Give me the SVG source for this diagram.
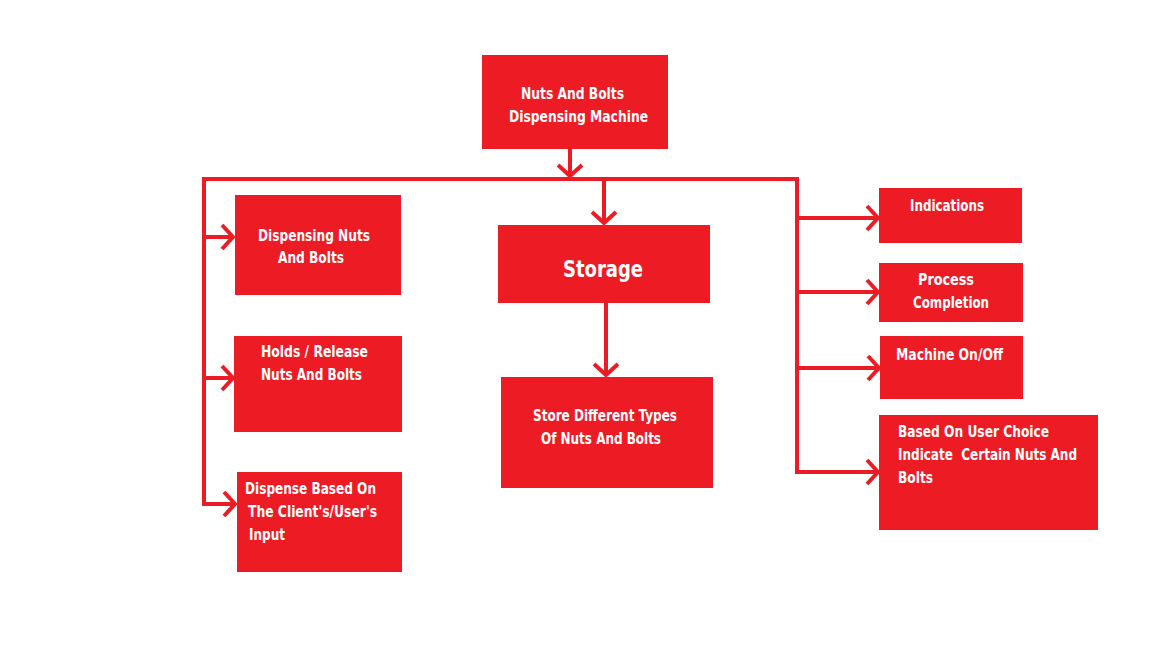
<svg xmlns="http://www.w3.org/2000/svg" width="1152" height="648" viewBox="0 0 1152 648">
<style>
.box{fill:#ED1C24}
.c{fill:none;stroke:#ED1C24;stroke-width:4}
text{font-family:"DejaVu Sans Condensed","Liberation Sans Narrow","Liberation Sans",sans-serif;font-weight:bold;font-size:16px;fill:#ffffff}
.big{font-size:23px}
</style>
<defs>
<marker id="ah" markerUnits="userSpaceOnUse" markerWidth="34" markerHeight="34" viewBox="-17 -17 34 34" refX="0" refY="0" orient="auto">
<path d="M-11,-12 L0,0 L-11,12" fill="none" stroke="#ED1C24" stroke-width="4"/>
</marker>
</defs>
<rect width="1152" height="648" fill="#ffffff"/>
<g id="connectors">
<path class="c" d="M570,149 V176" marker-end="url(#ah)"/>
<path class="c" d="M202,179 H799"/>
<path class="c" d="M204,177 V506"/>
<path class="c" d="M797,177 V474"/>
<path class="c" d="M204,237 H233" marker-end="url(#ah)"/>
<path class="c" d="M204,378 H233" marker-end="url(#ah)"/>
<path class="c" d="M204,504 H235" marker-end="url(#ah)"/>
<path class="c" d="M604,179 V223" marker-end="url(#ah)"/>
<path class="c" d="M606,303 V375" marker-end="url(#ah)"/>
<path class="c" d="M797,218 H878" marker-end="url(#ah)"/>
<path class="c" d="M797,292 H878" marker-end="url(#ah)"/>
<path class="c" d="M797,368 H879" marker-end="url(#ah)"/>
<path class="c" d="M797,472 H878" marker-end="url(#ah)"/>
</g>
<g id="n-root"><rect class="box" x="482" y="55" width="186" height="94"/>
<text x="521" y="99" textLength="103" lengthAdjust="spacingAndGlyphs">Nuts And Bolts</text>
<text x="509" y="122" textLength="139" lengthAdjust="spacingAndGlyphs">Dispensing Machine</text></g>
<g id="n-dispensing"><rect class="box" x="235" y="195" width="166" height="100"/>
<text x="258" y="241" textLength="112" lengthAdjust="spacingAndGlyphs">Dispensing Nuts</text>
<text x="278" y="263" textLength="66" lengthAdjust="spacingAndGlyphs">And Bolts</text></g>
<g id="n-holds"><rect class="box" x="234" y="336" width="168" height="96"/>
<text x="261" y="357" textLength="107" lengthAdjust="spacingAndGlyphs">Holds / Release</text>
<text x="261" y="380" textLength="101" lengthAdjust="spacingAndGlyphs">Nuts And Bolts</text></g>
<g id="n-dispense"><rect class="box" x="237" y="472" width="165" height="100"/>
<text x="245" y="494" textLength="131" lengthAdjust="spacingAndGlyphs">Dispense Based On</text>
<text x="248" y="517" textLength="129" lengthAdjust="spacingAndGlyphs">The Client's/User's</text>
<text x="249" y="540" textLength="36" lengthAdjust="spacingAndGlyphs">Input</text></g>
<g id="n-storage"><rect class="box" x="498" y="225" width="212" height="78"/>
<text class="big" x="563" y="277" textLength="80" lengthAdjust="spacingAndGlyphs">Storage</text></g>
<g id="n-store"><rect class="box" x="501" y="377" width="212" height="111"/>
<text x="533" y="421" textLength="144" lengthAdjust="spacingAndGlyphs">Store Different Types</text>
<text x="541" y="444" textLength="120" lengthAdjust="spacingAndGlyphs">Of Nuts And Bolts</text></g>
<g id="n-indications"><rect class="box" x="879" y="188" width="143" height="55"/>
<text x="910" y="211" textLength="74" lengthAdjust="spacingAndGlyphs">Indications</text></g>
<g id="n-process"><rect class="box" x="879" y="263" width="144" height="59"/>
<text x="918" y="285" textLength="56" lengthAdjust="spacingAndGlyphs">Process</text>
<text x="913" y="308" textLength="76" lengthAdjust="spacingAndGlyphs">Completion</text></g>
<g id="n-machine"><rect class="box" x="880" y="336" width="143" height="63"/>
<text x="896" y="360" textLength="107" lengthAdjust="spacingAndGlyphs">Machine On/Off</text></g>
<g id="n-based"><rect class="box" x="879" y="415" width="219" height="115"/>
<text x="898" y="437" textLength="151" lengthAdjust="spacingAndGlyphs">Based On User Choice</text>
<text x="898" y="460" textLength="179" lengthAdjust="spacingAndGlyphs" xml:space="preserve">Indicate  Certain Nuts And</text>
<text x="898" y="483" textLength="35" lengthAdjust="spacingAndGlyphs">Bolts</text></g>
</svg>
